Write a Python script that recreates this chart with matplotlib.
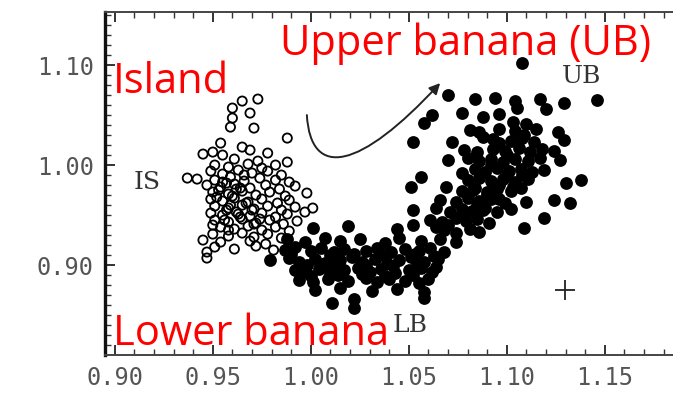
"""
Colour-colour diagram of an atoll source: island state (open circles)
and banana branch (filled dots), with the track direction marked.
"""
import matplotlib
matplotlib.use("Agg")
import matplotlib.pyplot as plt
from matplotlib.path import Path
from matplotlib.patches import FancyArrowPatch

# island state (open circles)
island_x = [
    0.965, 0.973, 0.960, 0.969, 0.960, 0.959, 0.971, 0.988, 0.954, 0.965, 0.969,
    0.945, 0.950, 0.955, 0.978, 0.961, 0.973, 0.988,
    0.951, 0.958, 0.968, 0.975, 0.982,
    0.949, 0.955, 0.963, 0.970, 0.978, 0.985,
    0.937, 0.942, 0.951, 0.959, 0.966, 0.974, 0.982, 0.989,
    0.947, 0.954, 0.961, 0.969, 0.977, 0.984, 0.992,
    0.950, 0.958, 0.965, 0.972, 0.979, 0.987, 0.998,
    0.949, 0.955, 0.961, 0.968, 0.975, 0.983, 0.989,
    0.951, 0.958, 0.965, 0.971, 0.978, 0.985, 0.992, 1.001,
    0.949, 0.955, 0.962, 0.969, 0.975, 0.982, 0.988, 0.997,
    0.951, 0.958, 0.965, 0.972, 0.979, 0.986, 0.993,
    0.954, 0.961, 0.968, 0.975, 0.982, 0.989,
    0.950, 0.958, 0.965, 0.971, 0.978, 0.985,
    0.945, 0.954, 0.969, 0.977, 0.988,
    0.951, 0.961, 0.972, 0.981,
    0.947, 0.947,
    0.953, 0.960, 0.967, 0.957, 0.964, 0.971, 0.955, 0.962, 0.970, 0.958, 0.966,
    0.952, 0.959, 0.956, 0.963, 0.950, 0.957, 0.964, 0.974,
]
island_y = [
    1.064, 1.066, 1.057, 1.052, 1.047, 1.038, 1.037, 1.027, 1.022, 1.018, 1.015,
    1.011, 1.013, 1.010, 1.012, 1.006, 1.004, 1.003,
    1.000, 0.998, 1.001, 0.997, 1.000,
    0.994, 0.991, 0.995, 0.992, 0.994, 0.990,
    0.987, 0.986, 0.985, 0.988, 0.984, 0.987, 0.985, 0.983,
    0.980, 0.978, 0.981, 0.977, 0.980, 0.976, 0.979,
    0.973, 0.971, 0.974, 0.970, 0.973, 0.969, 0.972,
    0.966, 0.964, 0.967, 0.963, 0.966, 0.962, 0.965,
    0.959, 0.957, 0.960, 0.956, 0.959, 0.955, 0.958, 0.957,
    0.952, 0.950, 0.953, 0.949, 0.952, 0.948, 0.951, 0.953,
    0.945, 0.943, 0.946, 0.942, 0.945, 0.941, 0.944,
    0.938, 0.936, 0.939, 0.935, 0.938, 0.934,
    0.931, 0.929, 0.932, 0.928, 0.931, 0.927,
    0.925, 0.923, 0.924, 0.921, 0.925,
    0.918, 0.916, 0.919, 0.915,
    0.913, 0.907,
    0.975, 0.969, 0.962, 0.955, 0.948, 0.941, 0.983, 0.976, 0.955, 0.935, 0.990,
    0.968, 0.960, 0.945, 0.951, 0.940, 0.982, 0.977, 0.946,
]

# banana branch (filled dots): lower part, then the rising part
banana_x = [
    1.001, 1.019, 1.044, 1.052, 1.064,
    0.988, 0.997, 1.007, 1.015, 1.025, 1.038, 1.045, 1.056, 1.066, 1.074,
    0.987, 0.992, 1.000, 1.005, 1.012, 1.017, 1.028, 1.034, 1.041, 1.048, 1.055, 1.061, 1.068,
    0.979, 0.989, 0.994, 1.002, 1.007, 1.015, 1.021, 1.026, 1.033, 1.039, 1.045, 1.051, 1.058, 1.065,
    0.992, 0.997, 1.004, 1.010, 1.017, 1.024, 1.030, 1.036, 1.043, 1.050, 1.056, 1.062,
    0.994, 1.001, 1.009, 1.019, 1.028, 1.034, 1.040, 1.048, 1.055, 1.060,
    1.002, 1.015, 1.031, 1.044, 1.058,
    1.011, 1.022, 1.058, 1.022,
    0.990, 1.010, 1.022, 1.037, 1.053, 1.063,
    0.998, 1.012, 1.028, 1.042, 1.054,
    1.000, 1.014, 1.026, 1.038, 1.052, 1.064,
    1.068, 1.074, 1.081, 1.086, 1.109,
    1.061, 1.067, 1.074, 1.079, 1.085, 1.091, 1.119,
    1.052, 1.064, 1.071, 1.077, 1.082, 1.089, 1.095, 1.102,
    1.066, 1.074, 1.080, 1.086, 1.092, 1.099, 1.110, 1.124, 1.132,
    1.051, 1.069, 1.077, 1.084, 1.090, 1.095, 1.102, 1.107,
    1.056, 1.080, 1.086, 1.092, 1.098, 1.104, 1.111, 1.130, 1.138,
    1.077, 1.084, 1.089, 1.095, 1.101, 1.107, 1.113, 1.119,
    1.070, 1.080, 1.086, 1.092, 1.098, 1.104, 1.111, 1.117, 1.127,
    1.078, 1.085, 1.093, 1.099, 1.106, 1.112, 1.118, 1.124,
    1.052, 1.072, 1.093, 1.102, 1.108, 1.114, 1.129,
    1.081, 1.086, 1.096, 1.104, 1.115, 1.126,
    1.058, 1.103, 1.110,
    1.062, 1.077, 1.088, 1.096,
    1.105, 1.120,
    1.084, 1.094, 1.104, 1.117, 1.129, 1.146,
    1.070, 1.108,
    1.070, 1.078, 1.085, 1.090, 1.096, 1.100, 1.088, 1.096,
    1.103, 1.108, 1.083, 1.092, 1.100, 1.096, 1.088, 1.109,
]
banana_y = [
    0.937, 0.939, 0.936, 0.940, 0.938,
    0.926, 0.923, 0.927, 0.924, 0.926, 0.922, 0.927, 0.924, 0.926, 0.923,
    0.915, 0.918, 0.914, 0.917, 0.913, 0.916, 0.914, 0.917, 0.913, 0.916, 0.914, 0.917, 0.913,
    0.905, 0.907, 0.903, 0.906, 0.902, 0.905, 0.908, 0.903, 0.906, 0.902, 0.905, 0.908, 0.903, 0.906,
    0.895, 0.893, 0.896, 0.892, 0.895, 0.897, 0.893, 0.896, 0.892, 0.895, 0.897, 0.893,
    0.885, 0.883, 0.886, 0.884, 0.887, 0.883, 0.886, 0.884, 0.882, 0.886,
    0.875, 0.877, 0.874, 0.876, 0.873,
    0.862, 0.866, 0.867, 0.857,
    0.911, 0.910, 0.911, 0.910, 0.911, 0.909,
    0.900, 0.899, 0.900, 0.899, 0.901,
    0.889, 0.890, 0.891, 0.889, 0.890, 0.898,
    0.935, 0.932, 0.936, 0.933, 0.937,
    0.945, 0.943, 0.947, 0.944, 0.946, 0.942, 0.947,
    0.955, 0.957, 0.953, 0.956, 0.954, 0.957, 0.953, 0.956,
    0.965, 0.963, 0.967, 0.964, 0.966, 0.962, 0.963, 0.965, 0.962,
    0.978, 0.978, 0.974, 0.977, 0.973, 0.976, 0.974, 0.977,
    0.988, 0.985, 0.987, 0.984, 0.986, 0.983, 0.986, 0.982, 0.985,
    0.992, 0.996, 0.993, 0.997, 0.994, 0.996, 0.993, 0.995,
    1.005, 1.007, 1.004, 1.006, 1.003, 1.006, 1.004, 1.007, 1.005,
    1.015, 1.013, 1.016, 1.014, 1.017, 1.013, 1.016, 1.014,
    1.023, 1.023, 1.026, 1.024, 1.027, 1.023, 1.025,
    1.035, 1.033, 1.036, 1.034, 1.036, 1.033,
    1.042, 1.043, 1.041,
    1.050, 1.052, 1.048, 1.051,
    1.057, 1.056,
    1.066, 1.067, 1.064, 1.066, 1.062, 1.065,
    1.070, 1.102,
    0.940, 0.950, 0.960, 0.970, 0.980, 0.990, 0.955, 0.966,
    0.978, 0.990, 0.975, 1.000, 1.010, 1.022, 1.028, 1.030,
]

x_ticks = [0.90, 0.95, 1.00, 1.05, 1.10, 1.15]
y_ticks = [0.90, 1.00, 1.10]

# typical error bar
err_x, err_y = 1.1296, 0.875
err_dx, err_dy = 0.005, 0.010

fig = plt.figure(figsize=(6.73, 4.03), dpi=100)
ax = fig.add_axes([0.156, 0.119, 0.844, 0.851])

ax.scatter(island_x, island_y, s=44, facecolors="none", edgecolors="black",
           linewidths=1.3, zorder=3)
ax.scatter(banana_x, banana_y, s=85, color="black", linewidths=0, zorder=4)

ax.errorbar([err_x], [err_y], xerr=[err_dx], yerr=[err_dy], fmt="none",
            ecolor="#222222", elinewidth=1.3, capsize=0)

# direction of motion along the track
track = Path(
    [(0.998, 1.050), (1.000, 0.985), (1.025, 0.995), (1.066, 1.082)],
    [Path.MOVETO, Path.CURVE4, Path.CURVE4, Path.CURVE4],
)
ax.add_patch(FancyArrowPatch(path=track, arrowstyle="-|>", mutation_scale=16,
                             color="#222222", lw=1.4, zorder=5))

serif = dict(family="DejaVu Serif", fontsize=18, color="#333333")
ax.text(0.9163, 0.983, "IS", ha="center", va="center", **serif)
ax.text(1.1380, 1.089, "UB", ha="center", va="center", **serif)
ax.text(1.0505, 0.840, "LB", ha="center", va="center", **serif)

ax.set_xlim(0.895, 1.1848)
ax.set_ylim(0.81, 1.153)
ax.set_xticks(x_ticks)
ax.set_xticklabels([f"{v:.2f}" for v in x_ticks])
ax.set_yticks(y_ticks)
ax.set_yticklabels([f"{v:.2f}" for v in y_ticks])
ax.set_xticks([0.90 + 0.01 * i for i in range(29)], minor=True)
ax.set_yticks([0.82 + 0.01 * i for i in range(34)], minor=True)

ax.tick_params(axis="both", which="both", direction="in", top=True,
               colors="#333333", labelcolor="#555555")
ax.tick_params(axis="both", which="major", length=7, width=1.4,
               labelsize=17, pad=8)
ax.tick_params(axis="both", which="minor", length=4, width=1.0)
for lbl in ax.get_xticklabels() + ax.get_yticklabels():
    lbl.set_family("DejaVu Sans Mono")

ax.spines["right"].set_visible(False)
ax.spines["left"].set_linewidth(2.4)
ax.spines["left"].set_color("#111111")
ax.spines["bottom"].set_linewidth(1.4)
ax.spines["bottom"].set_color("#444444")
ax.spines["top"].set_linewidth(1.4)
ax.spines["top"].set_color("#444444")

# state labels
red = dict(family="Open Sans", fontsize=30, color="red")
fig.text(113 / 673, 1 - 93 / 403, "Island", ha="left", va="baseline", **red)
fig.text(280 / 673, 1 - 55 / 403, "Upper banana (UB)", ha="left", va="baseline", **red)
fig.text(113 / 673, 1 - 345 / 403, "Lower banana", ha="left", va="baseline", **red)

fig.savefig("out.png", dpi=100)
